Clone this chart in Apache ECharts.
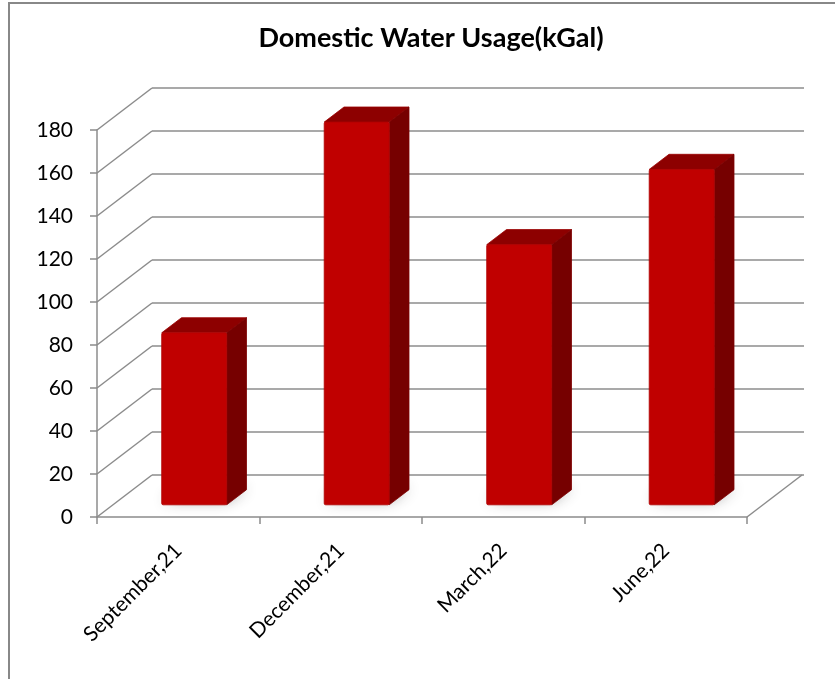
<!DOCTYPE html>
<html>
<head>
<meta charset="utf-8">
<title>Domestic Water Usage</title>
<script src="https://cdn.jsdelivr.net/npm/echarts@6/dist/echarts.min.js"></script>
<style>
  html, body { margin: 0; padding: 0; background: #fff; }
  #chart { width: 835px; height: 679px; }
</style>
</head>
<body>
<div id="chart"></div>
<script>
// Quarterly domestic water usage, thousands of gallons
const CATEGORIES = ['September,21', 'December,21', 'March,22', 'June,22'];
const USAGE = [80, 178, 121, 156];
const Y_MIN = 0;
const Y_MAX = 180;
const Y_STEP = 20;
const Y_TICKS = [0, 20, 40, 60, 80, 100, 120, 140, 160, 180];

// Pseudo-3D layout: the back wall sits this many pixels behind the front plane
const DEPTH_X = 55;
const DEPTH_Y = 42;
const FRONT = { left: 97, right: 88, top: 130, bottom: 162 };
const BACK = {
  left: FRONT.left + DEPTH_X,
  right: FRONT.right - DEPTH_X - 2,
  top: FRONT.top - DEPTH_Y,
  bottom: FRONT.bottom + DEPTH_Y
};
const BAR_WIDTH_RATIO = 0.4;   // share of a category band
const BAR_FRONT = 0.29;        // depth fraction of the bar's front face
const BAR_DEPTH = 0.36;        // depth fraction covered by the bar
const AXIS_COLOR = '#8c8c8c';
const FONT = 'Lato, "Open Sans", "Liberation Sans", sans-serif';

const chart = echarts.init(document.getElementById('chart'), null, { renderer: 'canvas' });

// Diagonal edges joining the front axis to the back-wall gridlines
function renderFloorEdges(params, api) {
  const v = api.value(1);
  const cs = params.coordSys;
  const p = api.coord([0, v]);
  const children = [{
    type: 'line',
    shape: { x1: cs.x, y1: p[1], x2: cs.x + DEPTH_X, y2: p[1] - DEPTH_Y },
    style: { stroke: AXIS_COLOR, lineWidth: 1.5 }
  }];
  if (v === Y_MIN) {
    children.push({
      type: 'line',
      shape: { x1: cs.x + cs.width, y1: p[1], x2: cs.x + cs.width + DEPTH_X, y2: p[1] - DEPTH_Y },
      style: { stroke: AXIS_COLOR, lineWidth: 1.5 }
    });
  }
  return { type: 'group', children };
}

// Box-shaped bar: front face, top and right side, with a soft floor shadow
function renderBar(params, api) {
  const i = api.value(0);
  const v = api.value(1);
  const top = api.coord([i, v]);
  const base = api.coord([i, Y_MIN]);
  const band = api.size([1, 0])[0];
  const w = band * BAR_WIDTH_RATIO;
  const fx = DEPTH_X * BAR_FRONT, fy = DEPTH_Y * BAR_FRONT;
  const dx = DEPTH_X * BAR_DEPTH, dy = DEPTH_Y * BAR_DEPTH;
  const x0 = top[0] - w / 2 + fx;
  const x1 = x0 + w;
  const yT = top[1] - fy;
  const yB = base[1] - fy;
  return {
    type: 'group',
    children: [
      {
        type: 'polygon',
        shape: { points: [[x0 + 2, yB - 2], [x1, yB - 2], [x1 + dx, yB - dy], [x0 + dx, yB - dy]] },
        style: { fill: 'rgba(110,110,110,0.6)', shadowBlur: 14, shadowColor: 'rgba(50,50,50,0.8)', shadowOffsetX: 0, shadowOffsetY: -2 }
      },
      {
        type: 'polygon',
        shape: { points: [[x0, yT], [x1, yT], [x1 + dx, yT - dy], [x0 + dx, yT - dy]] },
        style: { fill: '#8d0000', stroke: '#9a0000', lineWidth: 0.8, lineJoin: 'round' }
      },
      {
        type: 'polygon',
        shape: { points: [[x1, yT], [x1 + dx, yT - dy], [x1 + dx, yB - dy], [x1, yB]] },
        style: { fill: '#760000', stroke: '#7e0000', lineWidth: 0.8, lineJoin: 'round' }
      },
      {
        type: 'rect',
        shape: { x: x0, y: yT, width: w, height: yB - yT, r: 1.5 },
        style: { fill: '#c00000', stroke: '#b00000', lineWidth: 0.8 }
      }
    ]
  };
}

const option = {
  animation: false,
  backgroundColor: '#ffffff',
  title: {
    text: 'Domestic Water Usage(kGal)',
    left: 426,
    top: 20,
    textAlign: 'center',
    textStyle: { fontFamily: FONT, fontSize: 27, fontWeight: 'bold', color: '#000' }
  },
  graphic: [{
    type: 'rect',
    shape: { x: 9, y: 3, width: 900, height: 800 },
    style: { fill: 'none', stroke: '#888888', lineWidth: 2 },
    silent: true
  }],
  grid: [
    { left: FRONT.left, right: FRONT.right, top: FRONT.top, bottom: FRONT.bottom },
    { left: BACK.left, right: BACK.right, top: BACK.top, bottom: BACK.bottom }
  ],
  xAxis: [
    {
      type: 'category',
      gridIndex: 0,
      data: CATEGORIES,
      boundaryGap: true,
      axisLine: { show: true, lineStyle: { color: AXIS_COLOR, width: 1.5 } },
      axisTick: { show: true, length: 7, lineStyle: { color: AXIS_COLOR, width: 1.5 } },
      axisLabel: {
        rotate: 45,
        margin: 30,
        interval: 0,
        fontFamily: FONT,
        fontSize: 21,
        color: '#000'
      },
      splitLine: { show: false }
    },
    {
      type: 'category',
      gridIndex: 1,
      data: CATEGORIES,
      show: false
    }
  ],
  yAxis: [
    {
      type: 'value',
      gridIndex: 0,
      min: Y_MIN,
      max: Y_MAX,
      interval: Y_STEP,
      axisLine: { show: true, lineStyle: { color: AXIS_COLOR, width: 1.5 } },
      axisTick: { show: true, length: 7, lineStyle: { color: AXIS_COLOR, width: 1.5 } },
      axisLabel: { margin: 24, fontFamily: FONT, fontSize: 21, color: '#000' },
      splitLine: { show: false }
    },
    {
      type: 'value',
      gridIndex: 1,
      min: Y_MIN,
      max: Y_MAX,
      interval: Y_STEP,
      axisLine: { show: false },
      axisTick: { show: false },
      axisLabel: { show: false },
      splitLine: { show: true, lineStyle: { color: AXIS_COLOR, width: 1.5 } }
    }
  ],
  series: [
    {
      type: 'custom',
      name: 'floor',
      xAxisIndex: 0,
      yAxisIndex: 0,
      z: 1,
      silent: true,
      renderItem: renderFloorEdges,
      data: Y_TICKS.map(v => [0, v])
    },
    {
      type: 'custom',
      name: 'Usage',
      xAxisIndex: 0,
      yAxisIndex: 0,
      z: 3,
      renderItem: renderBar,
      encode: { x: 0, y: 1 },
      data: USAGE.map((v, i) => [i, v])
    }
  ]
};

chart.setOption(option);
</script>
</body>
</html>
